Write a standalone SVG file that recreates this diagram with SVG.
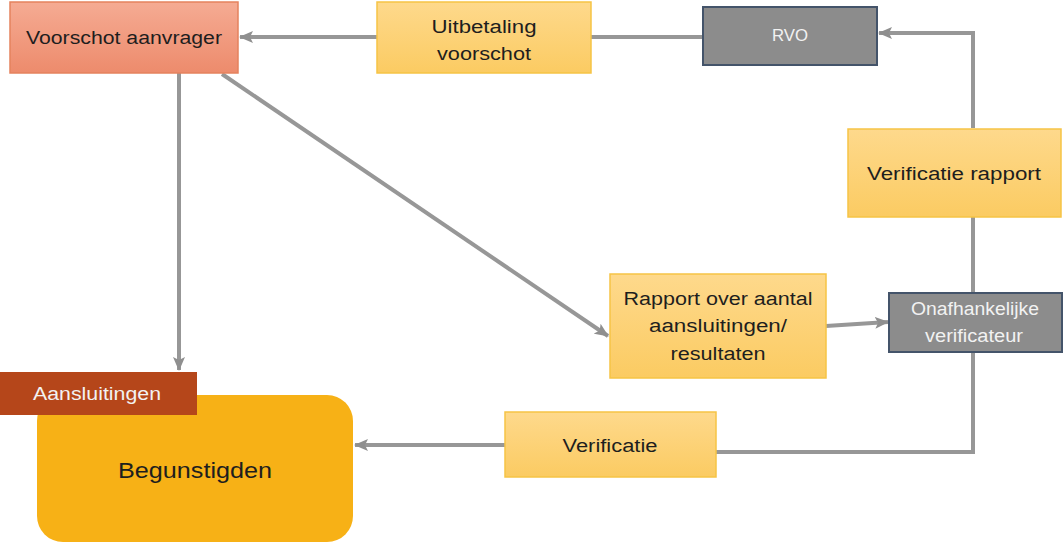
<svg xmlns="http://www.w3.org/2000/svg" width="1063" height="544" viewBox="0 0 1063 544">
<defs>
<linearGradient id="gY" x1="0" y1="0" x2="0" y2="1"><stop offset="0" stop-color="#fed98c"/><stop offset="1" stop-color="#fbcb62"/></linearGradient>
<linearGradient id="gS" x1="0" y1="0" x2="0" y2="1"><stop offset="0" stop-color="#f5ab93"/><stop offset="1" stop-color="#ed8b6c"/></linearGradient>
<marker id="ah" markerWidth="14" markerHeight="12" refX="13" refY="6" orient="auto" markerUnits="userSpaceOnUse"><path d="M0,0 L14,6 L0,12 L3,6 Z" fill="#8f8f8f"/></marker>
</defs>
<style>
.t{font-family:"Liberation Sans",Arial,sans-serif;font-size:18px;fill:#1e1e1e;text-anchor:middle}
.w{fill:#f2f2f2}
.y{fill:url(#gY);stroke:#f6c445;stroke-width:1.5}
.g{fill:#8c8c8c;stroke:#44546a;stroke-width:2}
.c{fill:none;stroke:#979797;stroke-width:4}
</style>
<rect width="1063" height="544" fill="#ffffff"/>
<g id="connectors">
<line class="c" x1="703" y1="37" x2="591" y2="37"/>
<line class="c" x1="377" y1="37" x2="240" y2="37" marker-end="url(#ah)"/>
<polyline class="c" points="973,128 973,33 879,33" marker-end="url(#ah)"/>
<line class="c" x1="973" y1="217" x2="973" y2="293"/>
<line class="c" x1="179" y1="73" x2="179" y2="370" marker-end="url(#ah)"/>
<line class="c" x1="222" y1="74" x2="608" y2="336" marker-end="url(#ah)"/>
<line class="c" x1="826" y1="326" x2="888" y2="322" marker-end="url(#ah)"/>
<polyline class="c" points="716,452 973,452 973,352"/>
<line class="c" x1="505" y1="445" x2="355" y2="445" marker-end="url(#ah)"/>
</g>
<g id="voorschot">
<rect x="10" y="2" width="228" height="71" fill="url(#gS)" stroke="#e5825e" stroke-width="1.5"/>
<text class="t" x="124" y="44" textLength="196" lengthAdjust="spacingAndGlyphs">Voorschot aanvrager</text>
</g>
<g id="uitbetaling">
<rect class="y" x="377" y="2" width="214" height="71"/>
<text class="t" x="484" y="33" textLength="105" lengthAdjust="spacingAndGlyphs">Uitbetaling</text>
<text class="t" x="484" y="60" textLength="94" lengthAdjust="spacingAndGlyphs">voorschot</text>
</g>
<g id="rvo">
<rect class="g" x="703" y="7" width="174" height="58"/>
<text class="t w" x="790" y="41" style="font-size:16px" textLength="36" lengthAdjust="spacingAndGlyphs">RVO</text>
</g>
<g id="verificatie-rapport">
<rect class="y" x="848" y="129" width="213" height="88"/>
<text class="t" x="954" y="180" textLength="174" lengthAdjust="spacingAndGlyphs">Verificatie rapport</text>
</g>
<g id="onafhankelijke">
<rect class="g" x="889" y="293" width="173" height="59"/>
<text class="t w" x="975" y="315" textLength="128" lengthAdjust="spacingAndGlyphs">Onafhankelijke</text>
<text class="t w" x="974" y="342" textLength="98" lengthAdjust="spacingAndGlyphs">verificateur</text>
</g>
<g id="rapport">
<rect class="y" x="610" y="274" width="216" height="104"/>
<text class="t" x="718" y="305" textLength="189" lengthAdjust="spacingAndGlyphs">Rapport over aantal</text>
<text class="t" x="718" y="332" textLength="138" lengthAdjust="spacingAndGlyphs">aansluitingen/</text>
<text class="t" x="718" y="360" textLength="95" lengthAdjust="spacingAndGlyphs">resultaten</text>
</g>
<g id="verificatie">
<rect class="y" x="505" y="412" width="211" height="65"/>
<text class="t" x="610" y="452" textLength="95" lengthAdjust="spacingAndGlyphs">Verificatie</text>
</g>
<g id="begunstigden">
<rect x="37" y="395" width="316" height="147" rx="26" fill="#f7b116"/>
<text class="t" x="195" y="478" style="font-size:22px" textLength="154" lengthAdjust="spacingAndGlyphs">Begunstigden</text>
</g>
<g id="aansluitingen">
<rect x="0" y="372" width="197" height="43" fill="#b5461a"/>
<text class="t w" x="97" y="400" textLength="128" lengthAdjust="spacingAndGlyphs">Aansluitingen</text>
</g>
</svg>
